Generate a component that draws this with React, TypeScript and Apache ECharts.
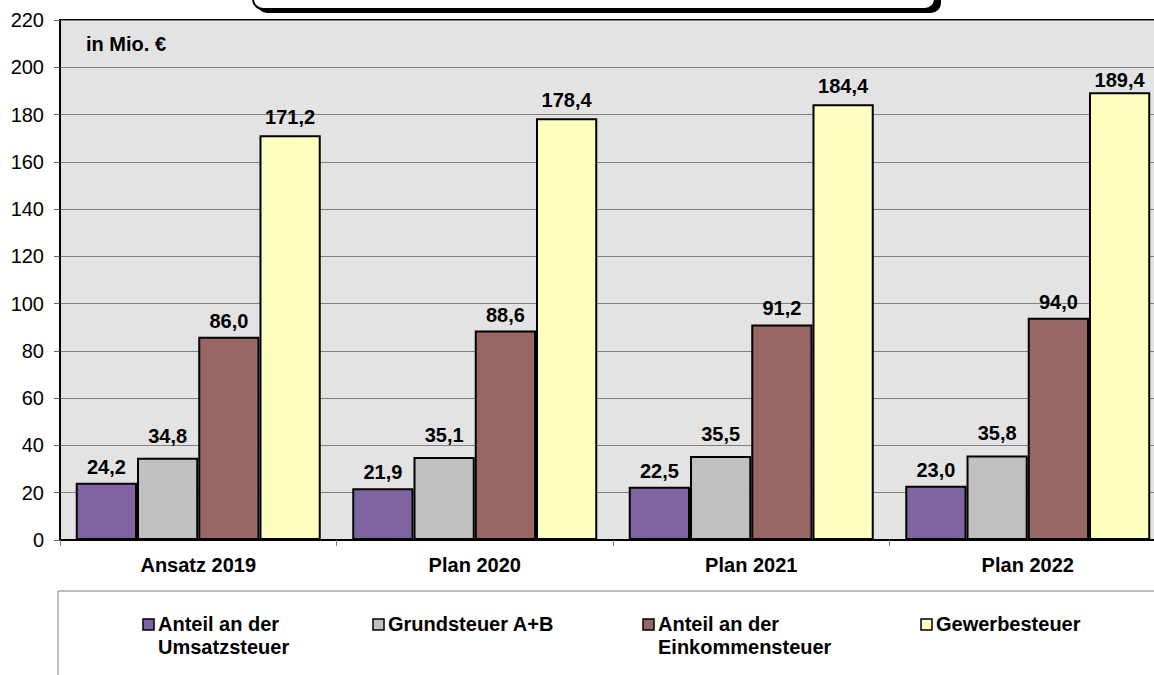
import React, { useEffect, useRef } from "react";
import * as echarts from "echarts";

const categories = ["Ansatz 2019", "Plan 2020", "Plan 2021", "Plan 2022"];
const seriesNames = [
  "Anteil an der\nUmsatzsteuer",
  "Grundsteuer A+B",
  "Anteil an der\nEinkommensteuer",
  "Gewerbesteuer",
];
const umsatzsteuer = [24.2, 21.9, 22.5, 23.0];
const grundsteuer = [34.8, 35.1, 35.5, 35.8];
const einkommensteuer = [86.0, 88.6, 91.2, 94.0];
const gewerbesteuer = [171.2, 178.4, 184.4, 189.4];
const seriesValues = [umsatzsteuer, grundsteuer, einkommensteuer, gewerbesteuer];
const colors = ["#8064a2", "#c0c0c0", "#996666", "#ffffc0"];
const unitLabel = "in Mio. €";
const legendX = [143, 373, 643, 921];
const labelDistances = [6, 12, 6, 8];

const FONT = "'Liberation Sans', Arial, sans-serif";

export default function App() {
  const ref = useRef<HTMLDivElement>(null);
  useEffect(() => {
    if (!ref.current) return;
    const chart = echarts.init(ref.current, null, { renderer: "svg" });
    const fmt = (v: number) => v.toFixed(1).replace(".", ",");
    const legendGraphics: any[] = [];
    seriesNames.forEach((name, i) => {
      legendGraphics.push({
        type: "rect",
        shape: { x: legendX[i], y: 619, width: 11, height: 11 },
        style: { fill: colors[i], stroke: "#000", lineWidth: 1.5 },
      });
      legendGraphics.push({
        type: "text",
        x: legendX[i] + 15,
        y: 612,
        style: {
          text: name,
          font: `bold 20px ${FONT}`,
          fill: "#000",
          lineHeight: 23,
        },
      });
    });
    chart.setOption({
      animation: false,
      backgroundColor: "#fff",
      grid: {
        left: 60,
        top: 20,
        width: 1106,
        height: 520,
        show: true,
        backgroundColor: "#e3e3e3",
        borderColor: "#000",
        borderWidth: 2,
      },
      xAxis: {
        type: "category",
        data: categories,
        axisLine: { lineStyle: { color: "#000", width: 2 } },
        axisTick: { show: true, length: 6, lineStyle: { color: "#808080" } },
        axisLabel: {
          fontFamily: FONT,
          fontWeight: "bold",
          fontSize: 20,
          color: "#000",
          margin: 15,
        },
      },
      yAxis: {
        type: "value",
        min: 0,
        max: 220,
        interval: 20,
        axisLine: { show: true, lineStyle: { color: "#000", width: 2 } },
        axisTick: { show: true, length: 6, lineStyle: { color: "#606060" } },
        axisLabel: { fontFamily: FONT, fontSize: 20, color: "#000", margin: 16 },
        splitLine: { lineStyle: { color: "#808080", width: 1 } },
      },
      series: seriesValues.map((vals, i) => ({
        type: "bar",
        name: seriesNames[i],
        data: vals.map((v, j) =>
          i === 3 && j === vals.length - 1
            ? { value: v, label: { distance: 2 } }
            : v
        ),
        barGap: "0%",
        barCategoryGap: "11.4%",
        itemStyle: { color: colors[i], borderColor: "#000", borderWidth: 2 },
        label: {
          show: true,
          position: "top",
          distance: labelDistances[i],
          fontFamily: FONT,
          fontWeight: "bold",
          fontSize: 20,
          color: "#000",
          formatter: (p: any) => fmt(p.value),
        },
      })),
      graphic: [
        {
          type: "rect",
          shape: { x: 257, y: -30, width: 684, height: 43, r: 10 },
          style: { fill: "#000" },
        },
        {
          type: "rect",
          shape: { x: 253, y: -34, width: 682, height: 43, r: 10 },
          style: { fill: "#fff", stroke: "#000", lineWidth: 2 },
        },
        {
          type: "text",
          x: 86,
          y: 34,
          style: { text: unitLabel, font: `bold 20px ${FONT}`, fill: "#000" },
        },
        {
          type: "rect",
          shape: { x: 58, y: 591, width: 1140, height: 120 },
          style: { fill: "#fff", stroke: "#808080", lineWidth: 1 },
        },
        ...legendGraphics,
      ],
    });
    return () => chart.dispose();
  }, []);
  return (
    <div
      style={{
        position: "absolute",
        left: 0,
        top: 0,
        width: 1154,
        height: 675,
        overflow: "hidden",
      }}
    >
      <div ref={ref} style={{ width: 1190, height: 675 }} />
    </div>
  );
}
